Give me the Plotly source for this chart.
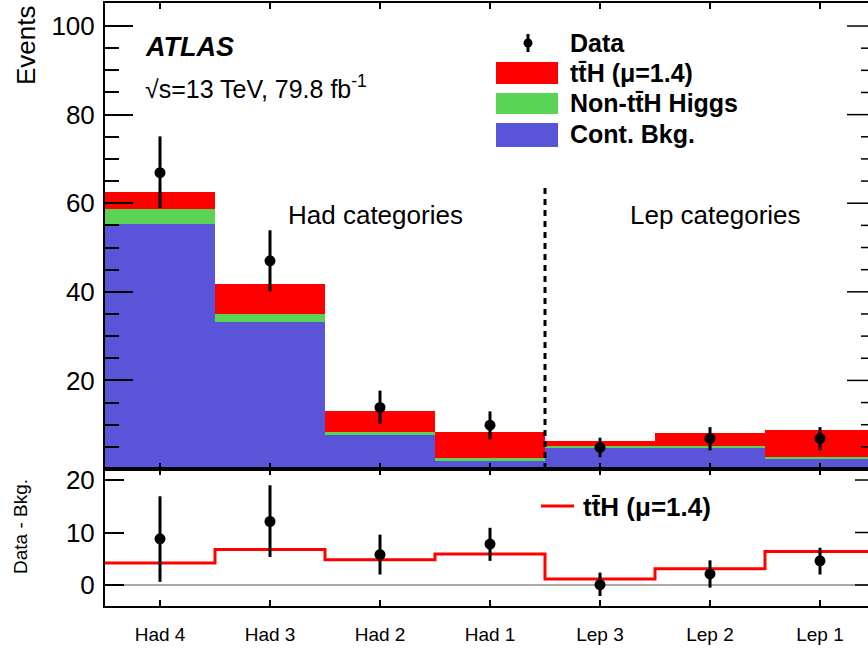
import plotly.graph_objects as go

# ---------------- data ----------------
categories = ["Had 4", "Had 3", "Had 2", "Had 1", "Lep 3", "Lep 2", "Lep 1"]
cont_bkg = [55.3, 33.1, 7.6, 1.9, 4.86, 4.86, 2.37]
non_tth_higgs = [3.3, 2.0, 0.8, 0.55, 0.3, 0.3, 0.3]
tth = [4.0, 6.6, 4.7, 5.8, 1.05, 3.05, 6.2]
data = [66.9, 47.0, 13.9, 9.9, 4.86, 6.9, 6.9]
data_err_up = [8.2, 6.9, 3.8, 3.1, 2.2, 2.55, 2.55]
data_err_dn = [8.0, 6.9, 3.7, 3.2, 2.2, 2.7, 2.7]

diff = [8.8, 12.1, 5.8, 7.8, 0.06, 2.1, 4.6]
diff_err_up = [8.1, 6.9, 3.8, 3.1, 2.3, 2.6, 2.5]
diff_err_dn = [8.2, 6.75, 3.8, 3.2, 2.16, 2.6, 2.6]
tth_diff = [4.2, 6.75, 4.8, 5.9, 1.15, 3.1, 6.4]

top_ticks = [20, 40, 60, 80, 100]
top_minor = [5, 10, 15, 25, 30, 35, 45, 50, 55, 65, 70, 75, 85, 90, 95, 105]
bot_ticks = [0, 10, 20]

# ---------------- geometry helpers ----------------
W, H = 868, 650
L, R, T, B = 105, 0, 3, 44
PW, PH = W - L - R, H - T - B


def px(x):
    return (x - L) / PW


def py(y):
    return (H - B - y) / PH


FONT = "Liberation Sans, Arial, Helvetica, sans-serif"
BLUE = "#5954D8"
GREEN = "#59D454"
RED = "#FF0000"

centers = [i + 0.5 for i in range(len(categories))]
edges = list(range(len(categories) + 1))

fig = go.Figure()

# stacked histogram
fig.add_trace(go.Bar(x=centers, y=cont_bkg, width=1, marker=dict(color=BLUE, line=dict(width=0)),
                     xaxis="x", yaxis="y", showlegend=False))
fig.add_trace(go.Bar(x=centers, y=non_tth_higgs, width=1, marker=dict(color=GREEN, line=dict(width=0)),
                     xaxis="x", yaxis="y", showlegend=False))
fig.add_trace(go.Bar(x=centers, y=tth, width=1, marker=dict(color=RED, line=dict(width=0)),
                     xaxis="x", yaxis="y", showlegend=False))
# data
fig.add_trace(go.Scatter(x=centers, y=data, mode="markers",
                         marker=dict(color="black", size=11),
                         error_y=dict(type="data", symmetric=False, array=data_err_up,
                                      arrayminus=data_err_dn, color="black", thickness=3, width=0),
                         xaxis="x", yaxis="y", showlegend=False))

# bottom panel
fig.add_trace(go.Scatter(x=edges, y=tth_diff + [tth_diff[-1]], mode="lines", line_shape="hv",
                         line=dict(color=RED, width=3), xaxis="x2", yaxis="y2", showlegend=False))
fig.add_trace(go.Scatter(x=centers, y=diff, mode="markers",
                         marker=dict(color="black", size=11),
                         error_y=dict(type="data", symmetric=False, array=diff_err_up,
                                      arrayminus=diff_err_dn, color="black", thickness=3, width=0),
                         xaxis="x2", yaxis="y2", showlegend=False))

xr = [0, (W - R - L) / 110.0]
split = py(469)

axis_common = dict(showgrid=False, zeroline=False, showline=True, linecolor="black", linewidth=2,
                   ticks="inside", tickcolor="black", tickwidth=1.5)

fig.update_layout(
    width=W, height=H,
    margin=dict(l=L, r=R, t=T, b=B),
    paper_bgcolor="white", plot_bgcolor="white",
    barmode="stack", bargap=0,
    font=dict(family=FONT, color="black"),
    xaxis=dict(domain=[0, 1], range=xr, anchor="y", tickvals=centers, ticktext=categories,
               showticklabels=False, ticklen=6, mirror="allticks", **axis_common),
    yaxis=dict(domain=[split, 1], range=[0, 105.2], anchor="x", tickvals=top_ticks, ticklen=28,
               tickfont=dict(size=26), ticklabelstandoff=3,
               minor=dict(tickmode="array", tickvals=top_minor, ticklen=14, ticks="inside",
                          tickcolor="black", tickwidth=1.5),
               **axis_common),
    xaxis2=dict(domain=[0, 1], range=xr, anchor="y2", tickvals=centers, ticktext=categories,
                ticklen=6, mirror="allticks", tickfont=dict(size=19), ticklabelstandoff=10,
                **axis_common),
    yaxis2=dict(domain=[0, split], range=[-4, 22.1], anchor="x2", tickvals=bot_ticks, ticklen=19,
                tickfont=dict(size=26), ticklabelstandoff=3, **axis_common),
)

shapes = []
# zero line in ratio panel
shapes.append(dict(type="line", xref="x2", yref="y2", x0=0, x1=xr[1], y0=0, y1=0,
                   line=dict(color="#AAAAAA", width=2), layer="below"))
# dashed separator
shapes.append(dict(type="line", xref="x", yref="y", x0=4, x1=4, y0=0, y1=64,
                   line=dict(color="black", width=3, dash="6px,5px")))
# right-hand tick marks (axis lies just beyond the visible window)
for v in top_ticks:
    shapes.append(dict(type="line", xref="paper", yref="y", x0=px(847), x1=1, y0=v, y1=v,
                       line=dict(color="black", width=1.5)))
for v in top_minor:
    if v < 105:
        shapes.append(dict(type="line", xref="paper", yref="y", x0=px(861), x1=1, y0=v, y1=v,
                           line=dict(color="black", width=1.5)))
for v in bot_ticks:
    shapes.append(dict(type="line", xref="paper", yref="y2", x0=px(855), x1=1, y0=v, y1=v,
                       line=dict(color="black", width=1.5)))

# legend boxes
legend_boxes = [(RED, 62, 84), (GREEN, 93, 114), (BLUE, 123, 147)]
for col, y0, y1 in legend_boxes:
    shapes.append(dict(type="rect", xref="paper", yref="paper", x0=px(496), x1=px(558),
                       y0=py(y1), y1=py(y0), fillcolor=col, line=dict(width=0)))
# legend data marker
shapes.append(dict(type="line", xref="paper", yref="paper", x0=px(528), x1=px(528),
                   y0=py(52), y1=py(34), line=dict(color="black", width=3)))
shapes.append(dict(type="circle", xref="paper", yref="paper", x0=px(523.5), x1=px(532.5),
                   y0=py(47.5), y1=py(38.5), fillcolor="black", line=dict(width=0)))
# ratio legend line
shapes.append(dict(type="line", xref="paper", yref="paper", x0=px(541), x1=px(574),
                   y0=py(506), y1=py(506), line=dict(color=RED, width=3)))
fig.update_layout(shapes=shapes)

TT = "tt\u0304H"
ann = []


def text(x, y, s, size, xanchor="left", angle=0):
    ann.append(dict(xref="paper", yref="paper", x=px(x), y=py(y), text=s, showarrow=False,
                    xanchor=xanchor, yanchor="middle", textangle=angle,
                    font=dict(family=FONT, size=size, color="black")))


text(143, 47, "<b><i>ATLAS</i></b>", 27)
text(143, 87, "\u221as=13 TeV, 79.8 fb<sup>-1</sup>", 25)
text(375, 215, "Had categories", 26, "center")
text(715, 215, "Lep categories", 26, "center")
text(568, 43, "<b>Data</b>", 25)
text(568, 73, "<b>" + TT + " (\u03bc=1.4)</b>", 25)
text(568, 103, "<b>Non-" + TT + " Higgs</b>", 25)
text(568, 134, "<b>Cont. Bkg.</b>", 25)
text(581, 507, "<b>" + TT + " (\u03bc=1.4)</b>", 26)
text(26, 45, "Events", 26, "center", -90)
text(20, 527, "Data - Bkg.", 19, "center", -90)
fig.update_layout(annotations=ann)

fig.write_html("out.html", config={"displayModeBar": False},
               post_script="document.body.style.margin='0';")
